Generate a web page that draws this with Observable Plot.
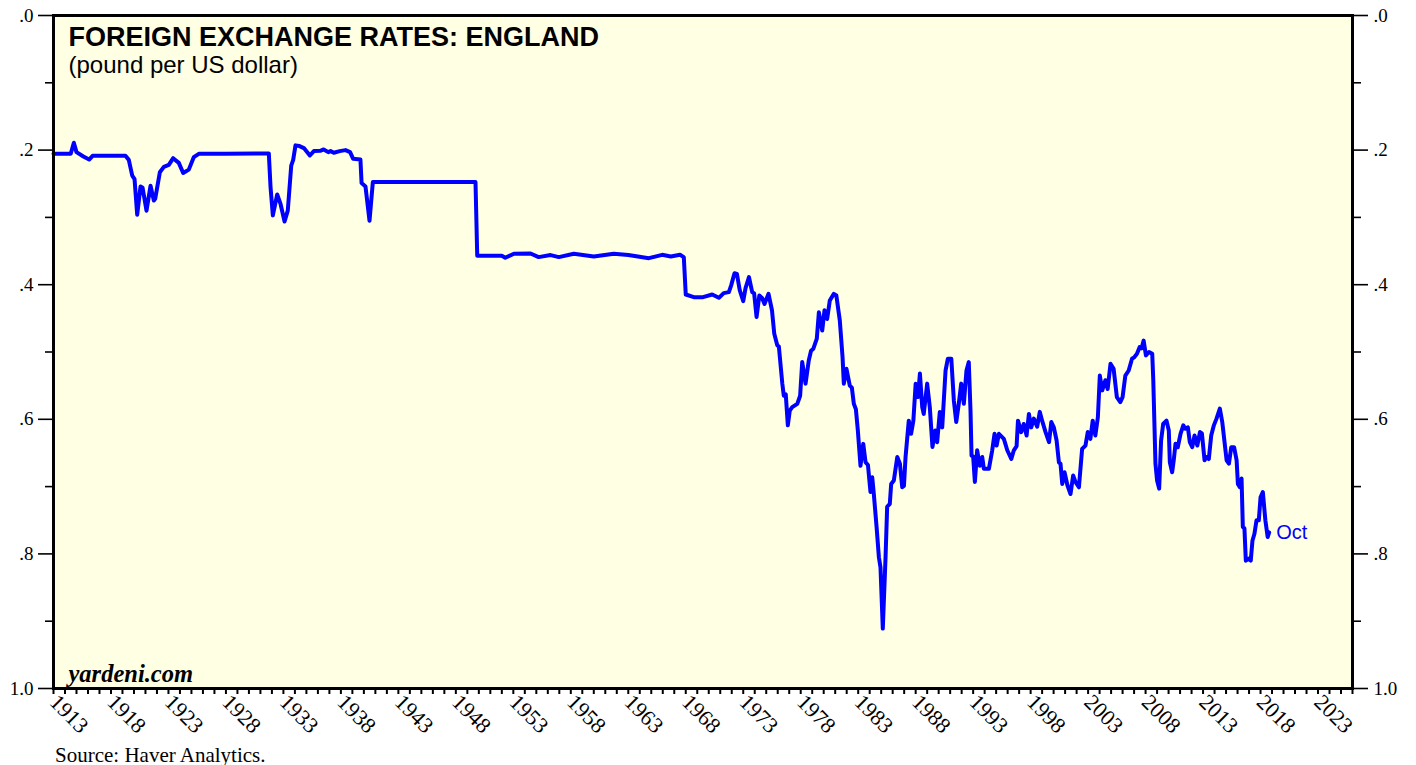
<!DOCTYPE html>
<html><head><meta charset="utf-8">
<script src="https://cdn.jsdelivr.net/npm/d3@7"></script>
<script src="https://cdn.jsdelivr.net/npm/@observablehq/plot@0.6"></script>
<style>
body{margin:0;background:#fff;}
#wrap{position:relative;width:1416px;height:765px;}
#source{position:absolute;left:55px;top:745px;font-family:"Liberation Serif",serif;font-size:21px;line-height:20px;color:#000;}
</style></head><body>
<div id="wrap"><div id="chart"></div><div id="source">Source: Haver Analytics.</div></div>
<script>
const years = [
1913.0,1914.5,1914.77,1915.0,1915.6,1916.1,1916.4,1919.26,1919.55,1919.85,1920.05,1920.28,1920.57,1920.75,1921.09,1921.44,1921.73,1921.85,1922.25,1922.6,1923.03,1923.41,1923.9,1924.28,1924.77,1925.2,1925.64,1928.0,1931.73,
1931.88,1932.08,1932.46,1932.75,1933.1,1933.38,1933.68,1933.85,1934.05,1934.4,1934.78,1935.3,1935.65,1936.2,1936.5,1936.9,1937.1,1937.38,1937.9,1938.4,1938.8,1939.07,1939.7,1939.8,1940.14,1940.49,1940.78,1949.71,
1949.86,1952.0,1952.3,1953.05,1954.5,1955.2,1956.24,1956.96,1958.26,1960.0,1961.74,1963.0,1964.8,1965.95,1966.7,1967.5,1967.83,
1968.0,1968.7,1969.5,1970.3,1970.88,1971.3,1971.75,1971.95,1972.24,1972.45,1972.7,1973.0,1973.2,1973.5,1973.78,1973.95,1974.16,1974.4,1974.65,1974.85,1975.2,1975.5,1975.7,1975.96,1976.1,1976.4,1976.53,1976.7,1976.88,1977.05,1977.26,1977.7,1977.95,1978.13,1978.42,1978.7,1978.9,1979.1,1979.4,1979.58,1979.87,1980.07,1980.3,1980.53,1980.88,1981.1,1981.4,1981.64,1981.75,1981.98,1982.27,1982.45,1982.62,1982.8,1982.97,1983.2,1983.44,1983.64,1983.85,1984.07,1984.22,1984.36,1984.6,1984.8,1984.94,1985.14,1985.38,1985.52,1985.75,1985.87,1986.1,1986.4,1986.63,1986.83,1986.98,1987.12,1987.4,1987.6,1987.8,1988.0,1988.2,1988.37,1988.57,1988.7,1989.0,1989.23,1989.46,1989.7,1989.87,1990.1,1990.31,1990.6,1990.8,1991.1,1991.32,1991.53,1991.75,1991.96,1992.19,1992.42,1992.62,1992.77,1992.86,1993.0,1993.15,1993.35,1993.58,1993.79,1993.93,1994.37,1994.66,1994.86,1995.04,1995.24,1995.67,1995.97,1996.32,1996.54,1996.78,1996.9,1997.18,1997.4,1997.65,1997.85,1998.05,1998.28,1998.57,1998.8,1999.0,1999.3,1999.6,1999.8,2000.02,2000.26,2000.46,2000.6,2000.75,2000.95,2001.2,2001.47,2001.7,2001.9,2002.2,2002.48,2002.77,2002.97,2003.2,2003.4,2003.63,2003.85,2004.02,2004.23,2004.5,2004.7,2004.95,2005.22,2005.5,2005.8,2006.0,2006.24,2006.53,2006.82,2007.0,2007.25,2007.48,2007.65,2007.83,2008.03,2008.3,2008.58,2008.67,2008.86,2009.0,2009.18,2009.35,2009.53,2009.82,2010.02,2010.11,2010.31,2010.45,2010.6,2010.8,2011.04,2011.28,2011.45,2011.68,2011.85,2012.06,2012.26,2012.5,2012.73,2012.9,2013.13,2013.3,2013.5,2013.71,2013.94,2014.17,2014.46,2014.67,2014.87,2015.05,2015.25,2015.45,2015.7,2015.92,2016.03,2016.2,2016.35,2016.46,2016.6,2016.72,2016.98,2017.15,2017.3,2017.47,2017.65,2017.85,2018.0,2018.2,2018.42,2018.62,2018.75
];
const rates = [
0.2055,0.2055,0.189,0.203,0.2095,0.214,0.2085,0.2085,0.2145,0.238,0.243,0.296,0.254,0.256,0.29,0.253,0.275,0.272,0.233,0.225,0.222,0.212,0.219,0.234,0.229,0.2105,0.2055,0.2055,0.205,
0.255,0.297,0.266,0.28,0.306,0.29,0.223,0.2145,0.193,0.194,0.197,0.208,0.2015,0.201,0.199,0.203,0.2015,0.204,0.2015,0.2,0.203,0.213,0.214,0.249,0.254,0.305,0.2475,0.2475,
0.357,0.357,0.36,0.354,0.3536,0.359,0.356,0.359,0.354,0.358,0.354,0.356,0.3606,0.3556,0.358,0.3556,0.359,
0.4146,0.4185,0.4185,0.4146,0.4195,0.4125,0.411,0.401,0.383,0.384,0.4086,0.4245,0.405,0.3888,0.411,0.413,0.448,0.416,0.42,0.4285,0.4136,0.438,0.473,0.49,0.492,0.547,0.565,0.563,0.609,0.587,0.582,0.577,0.565,0.515,0.547,0.5126,0.498,0.495,0.48,0.441,0.468,0.438,0.451,0.4235,0.4136,0.416,0.453,0.5077,0.547,0.525,0.55,0.553,0.577,0.585,0.6166,0.669,0.6365,0.6637,0.668,0.708,0.686,0.711,0.76,0.805,0.82,0.911,0.805,0.73,0.7256,0.696,0.691,0.656,0.666,0.701,0.699,0.656,0.602,0.6216,0.602,0.547,0.567,0.532,0.582,0.592,0.547,0.582,0.641,0.6166,0.634,0.589,0.612,0.5275,0.51,0.51,0.572,0.604,0.577,0.547,0.577,0.5275,0.515,0.587,0.654,0.655,0.693,0.646,0.669,0.656,0.6736,0.6736,0.646,0.6216,0.639,0.6216,0.629,0.646,0.659,0.646,0.64,0.602,0.619,0.607,0.624,0.592,0.612,0.599,0.611,0.589,0.602,0.619,0.634,0.604,0.612,0.6315,0.664,0.666,0.696,0.6786,0.698,0.711,0.6835,0.693,0.701,0.644,0.639,0.619,0.629,0.602,0.624,0.597,0.535,0.557,0.542,0.555,0.5176,0.525,0.567,0.5745,0.567,0.535,0.5275,0.51,0.508,0.5027,0.4928,0.4945,0.483,0.505,0.5,0.5027,0.542,0.666,0.691,0.703,0.6315,0.607,0.602,0.6166,0.664,0.6786,0.661,0.6365,0.6415,0.6216,0.609,0.614,0.612,0.634,0.6415,0.624,0.639,0.619,0.621,0.661,0.656,0.659,0.624,0.609,0.599,0.584,0.604,0.634,0.661,0.666,0.6415,0.6415,0.661,0.696,0.701,0.688,0.76,0.762,0.81,0.807,0.81,0.78,0.77,0.75,0.75,0.716,0.708,0.75,0.775,0.768
];
const yMajorTicks = [0, 0.2, 0.4, 0.6, 0.8, 1.0];
const yMinorTicks = [0.1, 0.3, 0.5, 0.7, 0.9];
const xTickYears = d3.range(1913, 2027);
const xLabelYears = d3.range(1913, 2024, 5);
const titleText = "FOREIGN EXCHANGE RATES: ENGLAND";
const subtitleText = "(pound per US dollar)";
const brandText = "yardeni.com";
const endLabel = "Oct";

const data = years.map((y, i) => ({year: y, rate: rates[i]}));
const last = data[data.length - 1];
const yFmt = d => d === 1 ? "1.0" : d3.format(".1f")(d).replace(/^0/, "");
const serif = "'Liberation Serif', serif";
const sans = "'Liberation Sans', Arial, sans-serif";

const W = 1416, H = 742;
const chart = Plot.plot({
  width: W, height: H,
  marginLeft: 53, marginRight: 64, marginTop: 15, marginBottom: H - 688,
  style: {fontFamily: serif, fontSize: "19px", background: "transparent", color: "#000", overflow: "visible"},
  x: {domain: [1913, 2026], label: null},
  y: {domain: [0, 1], reverse: true, label: null},
  marks: [
    Plot.frame({fill: "#ffffe4", stroke: null}),
    Plot.line(data, {x: "year", y: "rate", stroke: "#0000ff", strokeWidth: 4, strokeLinejoin: "round", strokeLinecap: "round"}),
    Plot.frame({stroke: "#000", strokeWidth: 3}),
    Plot.axisY({anchor: "left", ticks: yMajorTicks, tickSize: 15, tickPadding: 5, strokeWidth: 1.6, tickFormat: yFmt, fontSize: 19, fontFamily: serif, label: null}),
    Plot.axisY({anchor: "left", ticks: yMinorTicks, tickSize: 8, strokeWidth: 1.6, tickFormat: () => "", label: null}),
    Plot.axisY({anchor: "right", ticks: yMajorTicks, tickSize: 15, tickPadding: 6, strokeWidth: 1.6, tickFormat: yFmt, fontSize: 19, fontFamily: serif, label: null}),
    Plot.axisY({anchor: "right", ticks: yMinorTicks, tickSize: 8, strokeWidth: 1.6, tickFormat: () => "", label: null}),
    Plot.axisX({anchor: "bottom", ticks: xTickYears, tickSize: 6, strokeWidth: 2, tickFormat: () => "", label: null}),
    Plot.axisX({anchor: "bottom", ticks: xLabelYears, tickSize: 0, tickPadding: 10, tickRotate: 45, tickFormat: d => String(d), fontSize: 22, fontFamily: serif, label: null}),
    Plot.text([titleText], {frameAnchor: "top-left", dx: 15, dy: 11, fontSize: 27, fontWeight: "bold", fontFamily: sans}),
    Plot.text([subtitleText], {frameAnchor: "top-left", dx: 15, dy: 40, fontSize: 24, fontFamily: sans}),
    Plot.text([brandText], {frameAnchor: "bottom-left", dx: 15, dy: -7, fontSize: 24.5, fontWeight: "bold", fontStyle: "italic", fontFamily: serif}),
    Plot.text([last], {x: "year", y: "rate", text: () => endLabel, dx: 7, textAnchor: "start", fill: "#0000ff", fontSize: 20, fontFamily: sans})
  ]
});
document.getElementById("chart").appendChild(chart);
</script>
</body></html>
